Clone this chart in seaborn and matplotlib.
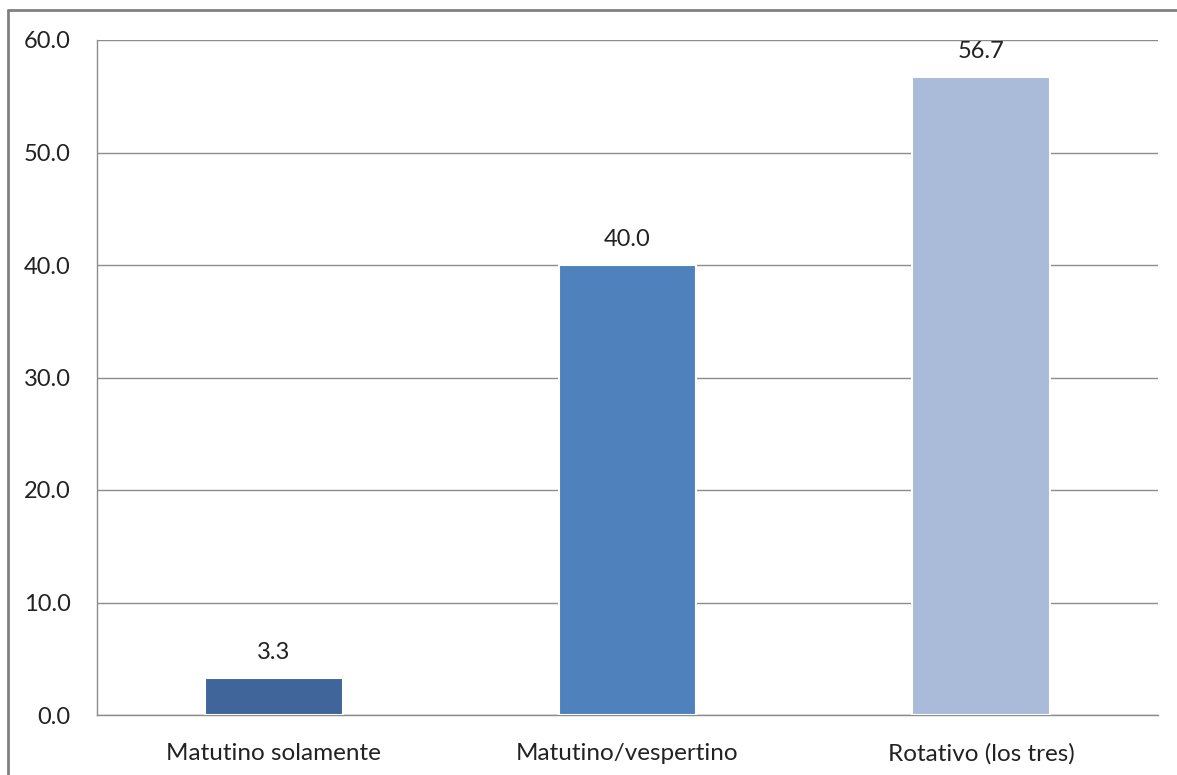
import matplotlib
matplotlib.use("Agg")
import matplotlib.pyplot as plt
from matplotlib.lines import Line2D
import seaborn as sns
import pandas as pd

categories = ["Matutino solamente", "Matutino/vespertino", "Rotativo (los tres)"]
values = [3.3, 40.0, 56.7]
bar_colors = ["#3F659B", "#4F81BD", "#A9BBD8"]
y_ticks = [0, 10, 20, 30, 40, 50, 60]

sns.set_style("white")
plt.rcParams["font.family"] = ["Lato", "DejaVu Sans"]

df = pd.DataFrame({"turno": categories, "pct": values})

fig = plt.figure(figsize=(11.77, 7.75), dpi=100)
ax = fig.add_axes([97 / 1177, 1 - 715 / 775, (1158 - 97) / 1177, (715 - 40) / 775])

sns.barplot(data=df, x="turno", y="pct", hue="turno", palette=bar_colors,
            saturation=1, width=0.39, edgecolor="white", linewidth=1.5,
            legend=False, ax=ax, zorder=3)

ax.set_xlim(-0.5, len(categories) - 0.5)
ax.set_ylim(0, 60)
ax.set_yticks(y_ticks)
ax.set_yticklabels([f"{v:.1f}" for v in y_ticks])
ax.yaxis.grid(True, color="#8C8C8C", linewidth=1.0, zorder=0)
ax.set_axisbelow(True)
ax.set_xlabel("")
ax.set_ylabel("")

# category separators as minor ticks on the x axis
ax.set_xticks([i + 0.5 for i in range(len(categories))], minor=True)
ax.tick_params(axis="x", which="major", length=0, pad=20, labelsize=17.5, colors="#222222")
ax.tick_params(axis="x", which="minor", length=7, width=1, color="#8C8C8C", direction="out")
ax.tick_params(axis="y", length=7, width=1, color="#8C8C8C", direction="out",
               pad=12, labelsize=17, colors="#222222")
ax.xaxis.set_tick_params(which="major", bottom=False)

for side in ["top", "right"]:
    ax.spines[side].set_visible(False)
for side in ["left", "bottom"]:
    ax.spines[side].set_color("#8C8C8C")
    ax.spines[side].set_linewidth(1.0)

for i, v in enumerate(values):
    ax.text(i, v + 1.3, f"{v:.1f}", ha="center", va="bottom", fontsize=17, color="#222222")

# outer frame of the chart area
fig.add_artist(Line2D([8 / 1177, 8 / 1177], [0, 1 - 10 / 775], transform=fig.transFigure,
                      color="#808080", linewidth=2))
fig.add_artist(Line2D([8 / 1177, 1], [1 - 10 / 775, 1 - 10 / 775], transform=fig.transFigure,
                      color="#808080", linewidth=2))

fig.savefig("out.png", dpi=100)
